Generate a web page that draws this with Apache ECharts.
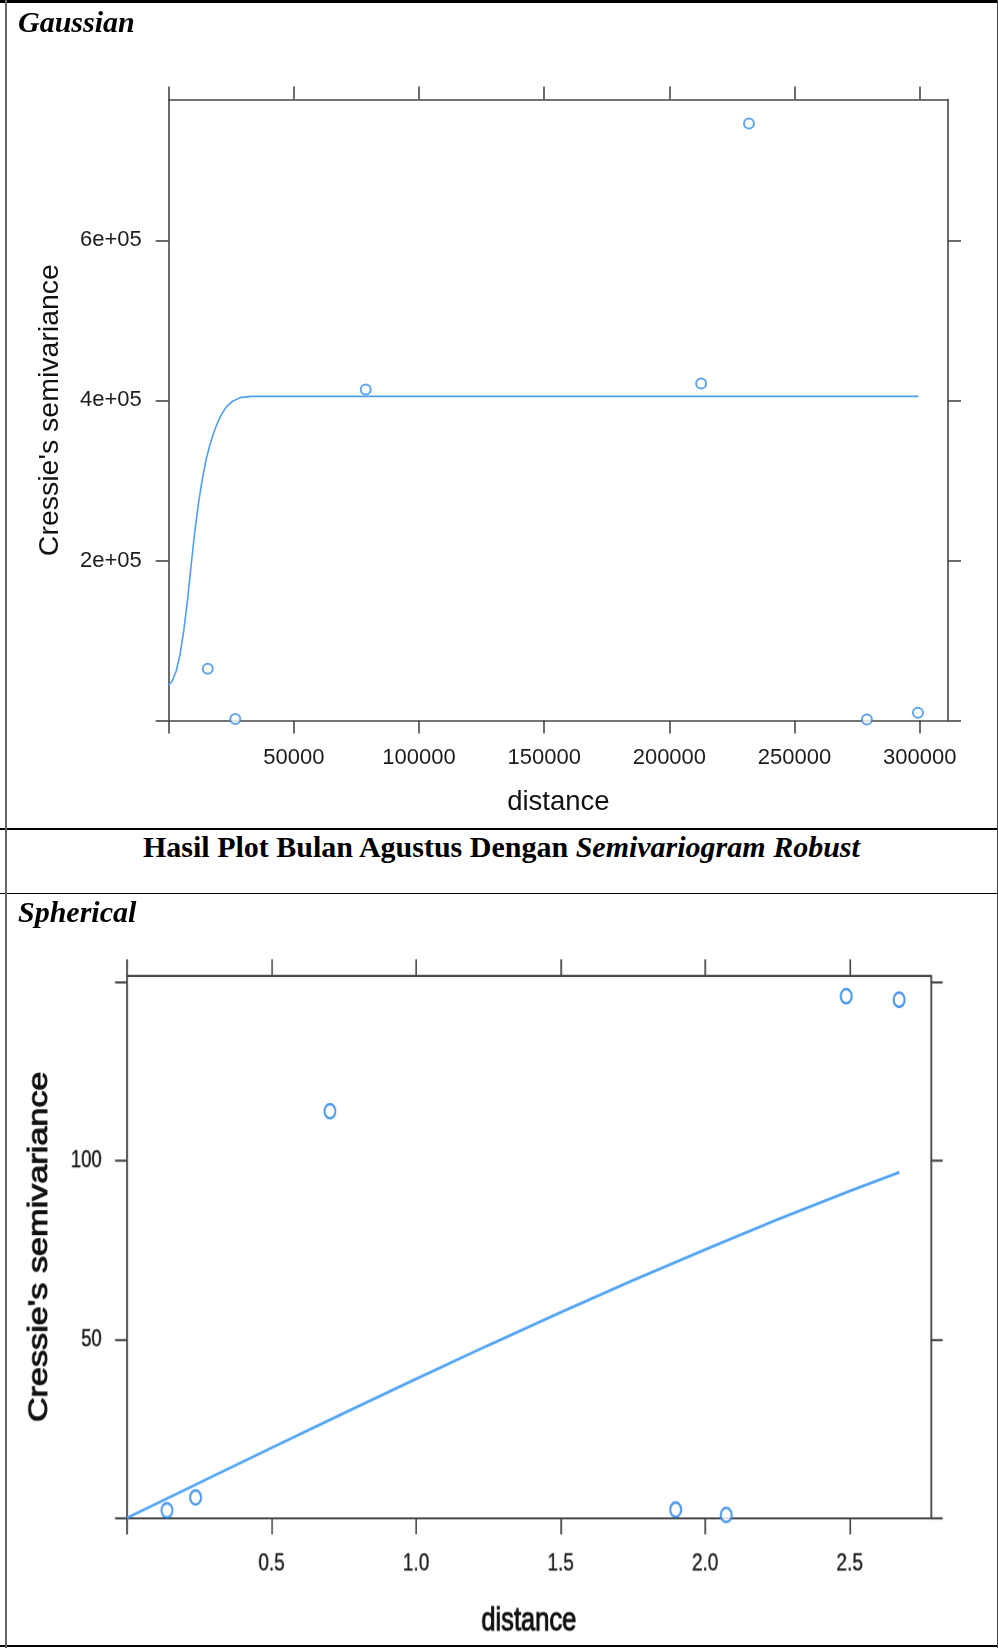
<!DOCTYPE html>
<html>
<head>
<meta charset="utf-8">
<script src="https://cdn.jsdelivr.net/npm/echarts@6/dist/echarts.min.js"></script>
<style>
  body { margin: 0; background: #fff; }
  #page { position: relative; width: 998px; height: 1648px; overflow: hidden; background: #fff; }
  .rule { position: absolute; background: #000; }
  .cap { position: absolute; font: italic bold 30px/30px "Liberation Serif", "Times New Roman", serif; color: #000; white-space: nowrap; }
  #head { position: absolute; left: 143px; top: 831.6px; font: bold 30px/30px "Liberation Serif", "Times New Roman", serif; color: #000; white-space: nowrap; }
  #chartTop { position: absolute; left: 0; top: 0; width: 998px; height: 828px; }
  /* the lower plot is stretched vertically in the source document */
  #chartBot { position: absolute; left: 0; top: 894px; width: 998px; height: 578px; transform: scaleY(1.3); transform-origin: 0 0; }
</style>
</head>
<body>
<div id="page">
  <div id="chartTop"></div>
  <div id="chartBot"></div>

  <div class="rule" style="left:0;top:0;width:998px;height:3px"></div>
  <div class="rule" style="left:0;top:828px;width:998px;height:2px"></div>
  <div class="rule" style="left:0;top:893px;width:998px;height:1px"></div>
  <div class="rule" style="left:0;top:1645px;width:998px;height:2px"></div>
  <div class="rule" style="left:5px;top:0;width:2px;height:1648px;background:#666"></div>
  <div class="rule" style="left:997px;top:0;width:1px;height:1648px;background:#444"></div>

  <div class="cap" style="left:18px;top:7.2px">Gaussian</div>
  <div id="head">Hasil Plot Bulan Agustus Dengan <i>Semivariogram Robust</i></div>
  <div class="cap" style="left:18px;top:896.6px">Spherical</div>
</div>

<script>
// ---- Gaussian (top) ----
const topPtDist = [15600, 26600, 78700, 212700, 231800, 278900, 299300]
const topPtGamma = [64800, 2000, 413500, 421000, 746000, 1500, 9700]

const gaussDist = [0, 1500, 3000, 4500, 6000, 7500, 9000, 10500, 12000, 13500, 15000, 16500, 18000, 19500, 21000, 23000, 25500, 28500, 33000, 299500]
const gaussGamma = [44000, 50000, 62000, 82000, 112000, 150000, 195000, 238000, 274000, 303000, 327000, 345000, 360000, 372000, 382000, 392000, 399000, 403500, 405000, 405000]

const topXTicks = [0, 50000, 100000, 150000, 200000, 250000, 300000]
const topXLabels = [50000, 100000, 150000, 200000, 250000, 300000]
const topYTicks = [0, 200000, 400000, 600000]
const topYLabels = [200000, 400000, 600000]
const topXMax = 311300
const topYMax = 775800

// ---- Spherical (bottom) ----
const botPtDist = [0.138, 0.237, 0.702, 1.898, 2.073, 2.488, 2.671]
const botPtGamma = [2.1, 5.7, 113.8, 2.3, 0.8, 146.0, 145.0]

const sphDist = [0, 0.25, 0.5, 0.75, 1.0, 1.25, 1.5, 1.75, 2.0, 2.25, 2.5, 2.672]
const sphGamma = [0, 9.8, 19.6, 29.3, 38.9, 48.3, 57.5, 66.5, 75.1, 83.5, 91.5, 96.7]

const botXTicks = [0, 0.5, 1.0, 1.5, 2.0, 2.5]
const botXLabels = [0.5, 1.0, 1.5, 2.0, 2.5]
const botYTicks = [0, 50, 100, 150]
const botYLabels = [50, 100]
const botXMax = 2.78
const botYMax = 151.7

const FONT = '"Liberation Sans", Arial, sans-serif'
const AXIS_COL = '#474747'
const STRETCH = 1.3
const BOT_TOP = 894
const toLocal = (y) => (y - BOT_TOP) / STRETCH

const pairs = (xs, ys) => xs.map((x, i) => [x, ys[i]])

// lattice style box: every side has ticks, only bottom/left get labels
function frameAxis(pos, max, ticks, labels, fmt, st) {
  const labelled = pos === 'bottom' || pos === 'left'
  return {
    type: 'value',
    position: pos,
    min: 0,
    max: max,
    interval: ticks[1] - ticks[0],
    splitLine: { show: false },
    axisLine: { show: true, onZero: false, lineStyle: { color: AXIS_COL, width: st.line } },
    axisTick: { show: true, inside: false, length: st.tick, customValues: ticks, lineStyle: { color: AXIS_COL, width: st.line } },
    axisLabel: {
      show: labelled,
      customValues: labels,
      margin: st.margin,
      fontSize: st.font,
      fontFamily: FONT,
      color: '#1c1c1c',
      textBorderColor: '#1c1c1c',
      textBorderWidth: st.heavy || 0,
      formatter: (v) => (labels.indexOf(v) < 0 ? '' : fmt(v))
    }
  }
}

function axisName(name, gap, size, heavy) {
  return {
    name: name,
    nameLocation: 'middle',
    nameGap: gap,
    nameTextStyle: { fontSize: size, fontFamily: FONT, color: '#111', textBorderColor: '#111', textBorderWidth: heavy || 0 }
  }
}

const sci = (v) => (v / 100000) + 'e+05'
const plain = (v) => String(v)
const oneDec = (v) => v.toFixed(1)

const topStX = { line: 1.6, tick: 13, margin: 26, font: 22 }
const topStY = { line: 1.6, tick: 13, margin: 27, font: 22 }

const chartTop = echarts.init(document.getElementById('chartTop'))
chartTop.setOption({
  animation: false,
  grid: { left: 168.7, top: 99.6, width: 779.3, height: 621, outerBoundsMode: 'none' },
  xAxis: [
    Object.assign(frameAxis('bottom', topXMax, topXTicks, topXLabels, plain, topStX), axisName('distance', 68, 27.5)),
    frameAxis('top', topXMax, topXTicks, topXLabels, plain, topStX)
  ],
  yAxis: [
    Object.assign(frameAxis('left', topYMax, topYTicks, topYLabels, sci, topStY), axisName("Cressie's semivariance", 104, 28.5)),
    frameAxis('right', topYMax, topYTicks, topYLabels, sci, topStY)
  ],
  series: [
    {
      type: 'line',
      data: pairs(gaussDist, gaussGamma),
      showSymbol: false,
      smooth: false,
      lineStyle: { color: '#4d9ff0', width: 1.6 },
      z: 3
    },
    {
      type: 'scatter',
      data: pairs(topPtDist, topPtGamma),
      symbol: 'emptyCircle',
      symbolSize: 10,
      itemStyle: { color: '#3a8fe6', borderWidth: 1.5 },
      z: 4
    }
  ]
})

const botStX = { line: 1.7, tick: 12.7, margin: 25.8, font: 19, heavy: 0.3 }
const botStY = { line: 1.7, tick: 12, margin: 25.3, font: 18.5, heavy: 0.3 }

const chartBot = echarts.init(document.getElementById('chartBot'), null, { devicePixelRatio: STRETCH })
chartBot.setOption({
  animation: false,
  grid: { left: 127, top: toLocal(975.8), width: 803.3, height: toLocal(1517.5) - toLocal(975.8), outerBoundsMode: 'none' },
  xAxis: [
    Object.assign(frameAxis('bottom', botXMax, botXTicks, botXLabels, oneDec, botStX), axisName('distance', 66.3, 25.5, 0.8)),
    frameAxis('top', botXMax, botXTicks, botXLabels, oneDec, botStX)
  ],
  yAxis: [
    Object.assign(frameAxis('left', botYMax, botYTicks, botYLabels, plain, botStY), axisName("Cressie's semivariance", 74.7, 26.3, 0.9)),
    frameAxis('right', botYMax, botYTicks, botYLabels, plain, botStY)
  ],
  series: [
    {
      type: 'line',
      data: pairs(sphDist, sphGamma),
      showSymbol: false,
      lineStyle: { color: '#4fa3f3', width: 2.2 },
      z: 3
    },
    {
      type: 'scatter',
      data: pairs(botPtDist, botPtGamma),
      symbol: 'emptyCircle',
      symbolSize: 11,
      itemStyle: { color: '#1f7fe8', borderWidth: 1.6 },
      z: 4
    }
  ]
})
</script>
</body>
</html>
